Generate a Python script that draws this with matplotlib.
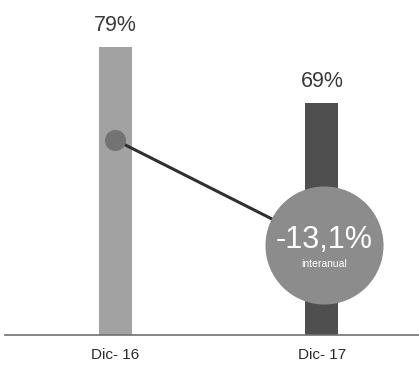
import matplotlib
matplotlib.use("Agg")
import matplotlib.pyplot as plt

categories = ["Dic- 16", "Dic- 17"]
values = [79, 69]
value_labels = ["79%", "69%"]
change_label = "-13,1%"
change_sub = "interanual"

plt.rcParams['font.family'] = ['Liberation Sans', 'DejaVu Sans']

fig = plt.figure(figsize=(4.19, 3.66), dpi=100)
ax = fig.add_axes([5/419, 31/366, 414/419, 335/366])
ax.set_xlim(-0.535, 1.47)
ax.set_ylim(27.57, 87.4)
ax.axis('off')

x = [0, 1]
colors = ["#a2a2a2", "#4f4f4f"]
ax.bar(x, values, width=0.16, bottom=0, color=colors, zorder=2)

for xi, v, lab in zip(x, values, value_labels):
    ax.text(xi, v + 2.0, lab, ha='center', va='bottom', fontsize=15.5, color='#3a3a3a')

# baseline
ax.axhline(27.57, color='#707070', lw=1.2, zorder=3, clip_on=False)

# category labels
for xi, c in zip(x, categories):
    ax.text(xi, 27.57 - 2.4, c, ha='center', va='top', fontsize=11, color='#2a2a2a')

# connector: dot on first bar, big circle on second bar
dot_y = 62.4
circ_x = 1.01
circ_y = 43.6
ax.plot([0, circ_x], [dot_y, circ_y], color='#303030', lw=2.2, zorder=4, solid_capstyle='round')
ax.scatter([0], [dot_y], s=230, color='#737373', zorder=5, linewidths=0)
ax.scatter([circ_x], [circ_y], s=7225, color='#8c8c8c', zorder=6, linewidths=0)
ax.text(circ_x, circ_y + 0.9, change_label, ha='center', va='center', fontsize=22, color='white', zorder=7)
ax.text(circ_x, circ_y - 3.4, change_sub, ha='center', va='center', fontsize=7.5, color='white', zorder=7)

fig.savefig("out.png", dpi=100, facecolor='white')
